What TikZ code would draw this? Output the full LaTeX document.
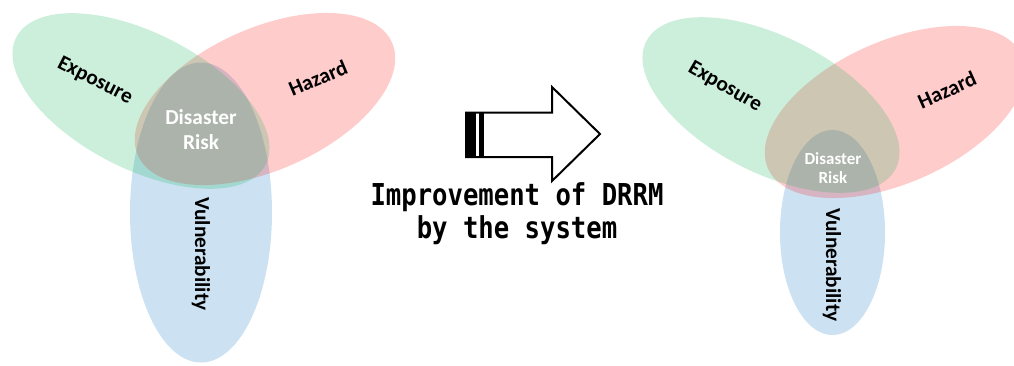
\documentclass[tikz,border=0pt]{standalone}
\usepackage{fontspec}
\setmainfont{Carlito}
\newfontfamily\gothicfont{DejaVu Sans Mono}
\usepackage{graphicx}
\definecolor{greenE}{RGB}{0,176,80}
\definecolor{redE}{RGB}{255,0,0}
\definecolor{blueE}{RGB}{0,112,192}
\tikzset{
  setfill/.style={fill=#1, fill opacity=0.2, draw=none},
  lbl/.style={font=\bfseries\fontsize{16}{18}\selectfont, text=black, inner sep=0pt},
  risk/.style={font=\bfseries\fontsize{16}{18.75}\selectfont, text=white, align=center, inner sep=0pt},
  smallrisk/.style={font=\bfseries\fontsize{12.75}{14.25}\selectfont, text=white, align=center, inner sep=0pt},
  caption/.style={font=\gothicfont\bfseries\fontsize{22.6}{24.75}\selectfont, align=center, inner sep=0pt}
}
\begin{document}
\begin{tikzpicture}[x=0.75pt, y=-0.75pt]
\useasboundingbox (0,0) rectangle (1014,365);
\fill[white] (0,0) rectangle (1014,365);

% ---- left diagram ----
\fill[setfill=blueE] (201,212.5) ellipse [x radius=53.25pt, y radius=112.5pt];
\fill[setfill=redE, shift={(265,99)}, rotate=24] (0,0) ellipse [x radius=104.25pt, y radius=53.25pt];
\fill[setfill=greenE, shift={(141,101)}, rotate=-27] (0,0) ellipse [x radius=105pt, y radius=51pt];

\node[lbl, rotate=-27] (expL) at (95,81) {Exposure};
\node[lbl, rotate=23] (hazL) at (318,78) {Hazard};
\node[lbl, rotate=-90] (vulL) at (201,254) {Vulnerability};
\node[risk] (riskL) at (201,130) {Disaster\\Risk};

% ---- arrow ----
\fill[black] (466,112.5) rectangle (476,157);
\fill[black] (478.5,112.5) rectangle (484,157);
\draw[line width=1.5pt, line join=miter, fill=none] (466,112.5) -- (552,112.5) -- (552,87) -- (600,134) -- (552,181) -- (552,157) -- (466,157) -- cycle;
\node[caption] (capt) at (517,214) {\scalebox{0.85}[1]{Improvement of DRRM}\\\scalebox{0.85}[1]{by the system}};

% ---- right diagram ----
\fill[setfill=blueE] (832.5,232.5) ellipse [x radius=39.4pt, y radius=76.9pt];
\fill[setfill=redE, shift={(895,112)}, rotate=24] (0,0) ellipse [x radius=104.25pt, y radius=53.25pt];
\fill[setfill=greenE, shift={(771,105)}, rotate=-27] (0,0) ellipse [x radius=105pt, y radius=51pt];

\node[lbl, rotate=-30] (expR) at (725,87) {Exposure};
\node[lbl, rotate=24] (hazR) at (947,90) {Hazard};
\node[lbl, rotate=-90] (vulR) at (832,265) {Vulnerability};
\node[smallrisk] (riskR) at (833,168) {Disaster\\Risk};
\end{tikzpicture}
\end{document}
